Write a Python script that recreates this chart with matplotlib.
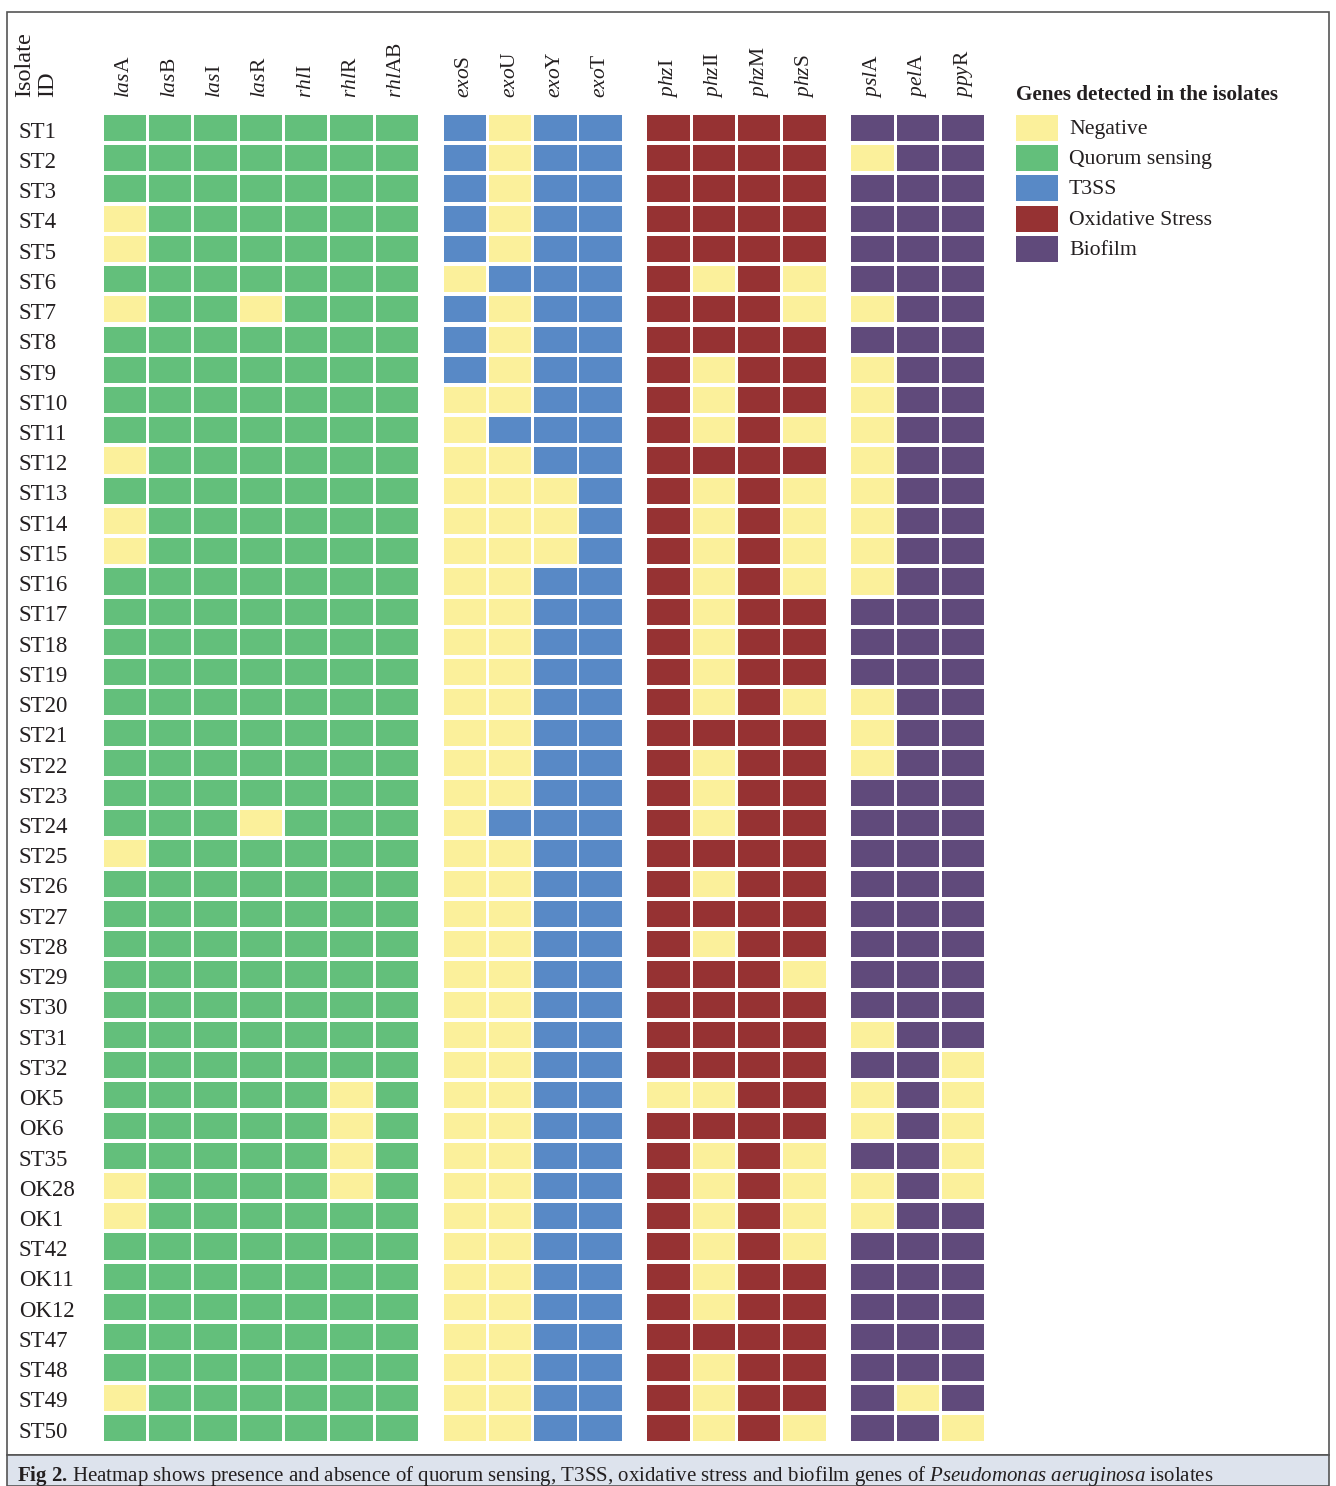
import matplotlib
matplotlib.use("Agg")
import matplotlib.pyplot as plt
from matplotlib.patches import Rectangle
from matplotlib.collections import PatchCollection
from matplotlib.transforms import blended_transform_factory

plt.rcParams['font.family'] = ['Liberation Serif', 'DejaVu Serif']
plt.rcParams['mathtext.fontset'] = 'custom'
plt.rcParams['mathtext.rm'] = 'Liberation Serif'
plt.rcParams['mathtext.it'] = 'Liberation Serif:italic'
plt.rcParams['mathtext.bf'] = 'Liberation Serif:bold'

# ---------------- data ----------------
isolates = ["ST1", "ST2", "ST3", "ST4", "ST5", "ST6", "ST7", "ST8", "ST9", "ST10",
            "ST11", "ST12", "ST13", "ST14", "ST15", "ST16", "ST17", "ST18", "ST19", "ST20",
            "ST21", "ST22", "ST23", "ST24", "ST25", "ST26", "ST27", "ST28", "ST29", "ST30",
            "ST31", "ST32", "OK5", "OK6", "ST35", "OK28", "OK1", "ST42", "OK11", "OK12",
            "ST47", "ST48", "ST49", "ST50"]

qs_genes = [("las", "A"), ("las", "B"), ("las", "I"), ("las", "R"),
            ("rhl", "I"), ("rhl", "R"), ("rhl", "AB")]
t3ss_genes = [("exo", "S"), ("exo", "U"), ("exo", "Y"), ("exo", "T")]
os_genes = [("phz", "I"), ("phz", "II"), ("phz", "M"), ("phz", "S")]
bio_genes = [("psl", "A"), ("pel", "A"), ("ppy", "R")]

quorum_sensing = ["1111111", "1111111", "1111111", "0111111", "0111111", "1111111", "0110111",
                  "1111111", "1111111", "1111111", "1111111", "0111111", "1111111", "0111111",
                  "0111111", "1111111", "1111111", "1111111", "1111111", "1111111", "1111111",
                  "1111111", "1111111", "1110111", "0111111", "1111111", "1111111", "1111111",
                  "1111111", "1111111", "1111111", "1111111", "1111101", "1111101", "1111101",
                  "0111101", "0111111", "1111111", "1111111", "1111111", "1111111", "1111111",
                  "0111111", "1111111"]
t3ss = ["1011", "1011", "1011", "1011", "1011", "0111", "1011", "1011", "1011", "0011",
        "0111", "0011", "0001", "0001", "0001", "0011", "0011", "0011", "0011", "0011",
        "0011", "0011", "0011", "0111", "0011", "0011", "0011", "0011", "0011", "0011",
        "0011", "0011", "0011", "0011", "0011", "0011", "0011", "0011", "0011", "0011",
        "0011", "0011", "0011", "0011"]
oxidative_stress = ["1111", "1111", "1111", "1111", "1111", "1010", "1110", "1111", "1011", "1011",
                    "1010", "1111", "1010", "1010", "1010", "1010", "1011", "1011", "1011", "1010",
                    "1111", "1011", "1011", "1011", "1111", "1011", "1111", "1011", "1110", "1111",
                    "1111", "1111", "0011", "1111", "1010", "1010", "1010", "1010", "1011", "1011",
                    "1111", "1011", "1011", "1010"]
biofilm = ["111", "011", "111", "111", "111", "111", "011", "111", "011", "011",
           "011", "011", "011", "011", "011", "011", "111", "111", "111", "011",
           "011", "011", "111", "111", "111", "111", "111", "111", "111", "111",
           "011", "110", "010", "010", "110", "010", "011", "111", "111", "111",
           "111", "111", "101", "110"]

legend_labels = ["Negative", "Quorum sensing", "T3SS", "Oxidative Stress", "Biofilm"]
legend_title = "Genes detected in the isolates"
caption = (r"$\mathbf{Fig\ 2.}\,$Heatmap shows presence and absence of quorum sensing, T3SS, "
           r"oxidative stress and biofilm genes of $\mathit{Pseudomonas\ aeruginosa}$ isolates")

# ---------------- style ----------------
NEG = "#FBF09B"
group_colors = ["#63BF7B", "#5889C6", "#963233", "#604A7B"]
groups = [(qs_genes, quorum_sensing), (t3ss_genes, t3ss),
          (os_genes, oxidative_stress), (bio_genes, biofilm)]
group_gaps = [0.0, 0.5, 1.0, 1.5]
TXT = "#231f20"

W, H = 1336, 1486
fig = plt.figure(figsize=(W / 100, H / 100), dpi=100)

# axes placement in pixels
pitch_x = 45.3
x0_center = 125
pitch_y = 30.23
y0_center = 128
n_rows = len(isolates)
ncols_total = sum(len(g) for g, _ in groups)
xmax = ncols_total - 1 + group_gaps[-1] + 0.5
left_px = x0_center - 0.5 * pitch_x
right_px = x0_center + xmax * pitch_x
top_px = y0_center - 0.5 * pitch_y
bot_px = y0_center + (n_rows - 0.5) * pitch_y
ax = fig.add_axes([left_px / W, 1 - bot_px / H, (right_px - left_px) / W, (bot_px - top_px) / H])
ax.set_xlim(-0.5, xmax)
ax.set_ylim(n_rows - 0.5, -0.5)

cw, ch = 0.935, 0.865
patches, colors = [], []
xticks, xlabels = [], []
col = 0
for gi, ((genes, rows), gcol) in enumerate(zip(groups, group_colors)):
    for j, (it, rm) in enumerate(genes):
        x = col + group_gaps[gi]
        xticks.append(x)
        xlabels.append(r"$\mathit{%s}\mathrm{%s}$" % (it, rm))
        for r, s in enumerate(rows):
            patches.append(Rectangle((x - cw / 2, r - ch / 2), cw, ch))
            colors.append(gcol if s[j] == "1" else NEG)
        col += 1
ax.add_collection(PatchCollection(patches, facecolors=colors, edgecolors="none"))

for sp in ax.spines.values():
    sp.set_visible(False)
ax.xaxis.tick_top()
ax.set_xticks(xticks)
ax.set_xticklabels(xlabels, rotation=90, fontsize=15.5, color=TXT)
ax.tick_params(axis="x", length=0, pad=11)
ax.set_yticks([])

# row labels: left-aligned at a fixed figure x, vertically on each row (slightly low, as in reference)
row_tr = blended_transform_factory(fig.transFigure, ax.transData)
for r, name in enumerate(isolates):
    ax.text(19 / W, r + 0.14, name, transform=row_tr, ha="left", va="center",
            fontsize=16.5, color=TXT, clip_on=False)

fig.text(36 / W, 1 - 97 / H, "Isolate\nID", rotation=90, ha="center", va="bottom",
         fontsize=17.5, color=TXT, multialignment="left", linespacing=1.1)

# legend
fig.text(1016 / W, 1 - 100 / H, legend_title, fontsize=15.2, fontweight="bold",
         color=TXT, ha="left", va="baseline")
leg_colors = [NEG] + group_colors
for i, (lab, c) in enumerate(zip(legend_labels, leg_colors)):
    ytop = 115 + i * 30.2
    fig.add_artist(Rectangle((1016 / W, 1 - (ytop + 26) / H), 42 / W, 26 / H,
                             transform=fig.transFigure, facecolor=c, edgecolor="none"))
    fig.text(1069 / W, 1 - (ytop + 19) / H, lab, fontsize=15.7, color=TXT,
             ha="left", va="baseline")

# frame and caption
fig.add_artist(Rectangle((7 / W, 1 - 1455 / H), (1329 - 7) / W, (1455 - 12) / H,
                         transform=fig.transFigure, facecolor="none",
                         edgecolor="#555555", linewidth=1.2))
fig.add_artist(Rectangle((7 / W, 0), (1329 - 7) / W, (H - 1455) / H,
                         transform=fig.transFigure, facecolor="#DDE3ED",
                         edgecolor="#555555", linewidth=1.2))
fig.text(17 / W, 1 - 1481 / H, caption, fontsize=15, color=TXT,
         ha="left", va="baseline")

fig.savefig("out.png", dpi=100)
